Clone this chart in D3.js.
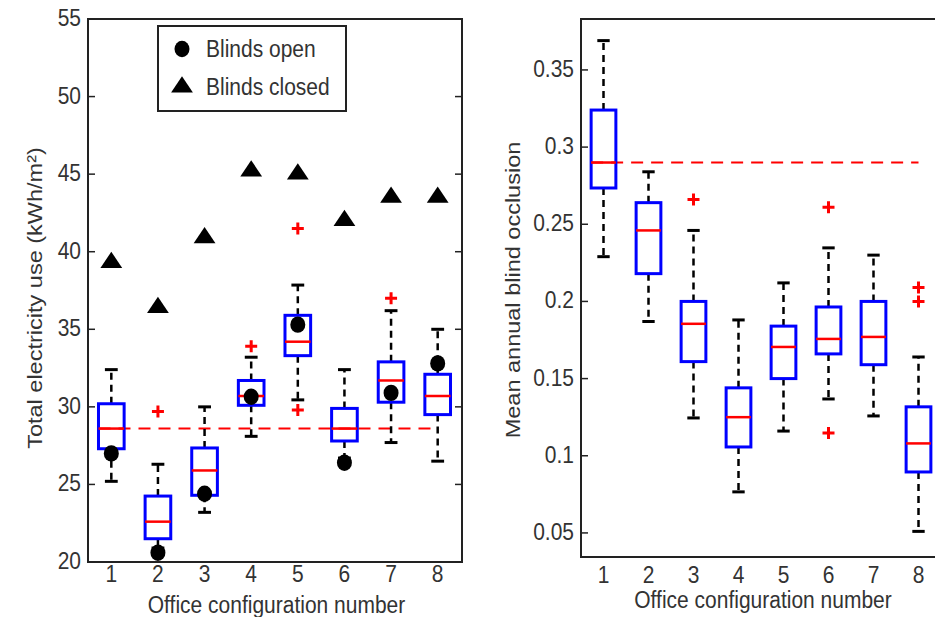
<!DOCTYPE html>
<html>
<head>
<meta charset="utf-8">
<script src="https://cdn.jsdelivr.net/npm/d3@7/dist/d3.min.js"></script>
<style>
  body { margin: 0; background: #ffffff; }
  svg { display: block; }
  text { font-family: "Liberation Sans", Arial, sans-serif; fill: #333; }
</style>
</head>
<body>
<script>
// ---- data ----
const configs = [1, 2, 3, 4, 5, 6, 7, 8];

// left: total electricity use (kWh/m2)
const elecWhiskerLow = [25.2, 20.9, 23.2, 28.1, 30.45, 26.7, 27.7, 26.5];
const elecQ1 = [27.3, 21.5, 24.3, 30.1, 33.3, 27.8, 30.3, 29.5];
const elecMedian = [28.6, 22.6, 25.9, 30.7, 34.2, 28.6, 31.7, 30.7];
const elecQ3 = [30.2, 24.25, 27.35, 31.7, 35.9, 29.9, 32.9, 32.1];
const elecWhiskerHigh = [32.4, 26.3, 30.0, 33.2, 37.85, 32.4, 36.2, 35.0];
const elecOutliers = [[], [29.7], [], [33.9], [41.5, 29.8], [], [37.0], []];
const blindsOpen = [27.0, 20.6, 24.4, 30.65, 35.3, 26.4, 30.9, 32.8];
const blindsClosed = [39.3, 36.4, 40.9, 45.2, 45.0, 42.0, 43.5, 43.5];
const elecReference = 28.6;
const elecTicks = [20, 25, 30, 35, 40, 45, 50, 55];

// right: mean annual blind occlusion
const occWhiskerLow = [0.229, 0.187, 0.1245, 0.0766, 0.116, 0.1368, 0.1258, 0.051];
const occQ1 = [0.2735, 0.218, 0.161, 0.1057, 0.150, 0.166, 0.159, 0.0895];
const occMedian = [0.290, 0.246, 0.1855, 0.125, 0.1705, 0.1757, 0.177, 0.108];
const occQ3 = [0.324, 0.264, 0.200, 0.144, 0.184, 0.1964, 0.200, 0.1317];
const occWhiskerHigh = [0.369, 0.284, 0.246, 0.188, 0.212, 0.2347, 0.230, 0.164];
const occOutliers = [[], [], [0.266], [], [], [0.261, 0.1148], [], [0.209, 0.200]];
const occReference = 0.290;
const occTicks = [0.05, 0.1, 0.15, 0.2, 0.25, 0.3, 0.35];

const legendLabels = ['Blinds open', 'Blinds closed'];

// ---- layout ----
const W = 935, H = 617;
const textStretch = 1.12; // the source figure is a bit taller than wide
const fontSize = 21;

const svg = d3.select('body').append('svg')
  .attr('width', W).attr('height', H)
  .attr('xmlns', 'http://www.w3.org/2000/svg');

function addText(g, x, y, str, anchor, rotate) {
  const t = g.append('text')
    .attr('transform', `translate(${x},${y}) scale(1,${textStretch})` + (rotate ? ` rotate(${rotate})` : ''))
    .attr('text-anchor', anchor)
    .style('font-size', fontSize + 'px')
    .text(str);
  return t;
}

function drawPanel(opt) {
  const g = svg.append('g');
  const x = d3.scaleLinear().domain([0.5, 8.5]).range([opt.left, opt.right]);
  const y = d3.scaleLinear().domain(opt.yDomain).range([opt.bottom, opt.top]);
  const bw = x(1.55) - x(1); // box width ~0.55 units

  // frame
  g.append('rect')
    .attr('x', opt.left).attr('y', opt.top)
    .attr('width', opt.frameRight - opt.left).attr('height', opt.bottom - opt.top)
    .style('fill', 'none').style('stroke', '#222').style('stroke-width', 2);

  // y ticks (inward) + labels
  const yTicks = g.append('g');
  for (const t of opt.ticks) {
    yTicks.append('line')
      .attr('x1', opt.left).attr('x2', opt.left + 7)
      .attr('y1', y(t)).attr('y2', y(t))
      .style('stroke', '#222').style('stroke-width', 1.5);
    if (opt.rightTicks) {
      yTicks.append('line')
        .attr('x1', opt.frameRight).attr('x2', opt.frameRight - 7)
        .attr('y1', y(t)).attr('y2', y(t))
        .style('stroke', '#222').style('stroke-width', 1.5);
    }
    addText(g, opt.left - 7, y(t) + 7, opt.tickFormat(t), 'end');
  }

  // x tick labels
  for (const c of configs) {
    addText(g, x(c), opt.bottom + opt.tickOffset, String(c), 'middle');
  }
  addText(g, (x(1) + x(8)) / 2 + 2, opt.bottom + opt.titleOffset, 'Office configuration number', 'middle');
  addText(g, opt.yLabelX, opt.yLabelY, opt.yLabel, 'middle', -90);

  // reference line
  g.append('line')
    .attr('x1', x(1) - bw / 2).attr('x2', x(8))
    .attr('y1', y(opt.reference)).attr('y2', y(opt.reference))
    .style('stroke', '#ff0000').style('stroke-width', 2)
    .style('stroke-dasharray', '12,8');

  // boxplots
  const boxes = g.selectAll('.box').data(configs).enter().append('g');

  // whiskers
  boxes.append('line')
    .attr('x1', d => x(d)).attr('x2', d => x(d))
    .attr('y1', (d, i) => y(opt.q3[i])).attr('y2', (d, i) => y(opt.hi[i]))
    .style('stroke', '#000').style('stroke-width', 2.5).style('stroke-dasharray', '7,5');
  boxes.append('line')
    .attr('x1', d => x(d)).attr('x2', d => x(d))
    .attr('y1', (d, i) => y(opt.q1[i])).attr('y2', (d, i) => y(opt.lo[i]))
    .style('stroke', '#000').style('stroke-width', 2.5).style('stroke-dasharray', '7,5');
  // caps
  for (const arr of [opt.hi, opt.lo]) {
    boxes.append('line')
      .attr('x1', d => x(d) - bw / 4).attr('x2', d => x(d) + bw / 4)
      .attr('y1', (d, i) => y(arr[i])).attr('y2', (d, i) => y(arr[i]))
      .style('stroke', '#000').style('stroke-width', 3);
  }
  // box
  boxes.append('rect')
    .attr('x', d => x(d) - bw / 2).attr('width', bw)
    .attr('y', (d, i) => y(opt.q3[i]))
    .attr('height', (d, i) => y(opt.q1[i]) - y(opt.q3[i]))
    .style('fill', 'none').style('stroke', '#0000ff').style('stroke-width', 3);
  // median
  boxes.append('line')
    .attr('x1', d => x(d) - bw / 2).attr('x2', d => x(d) + bw / 2)
    .attr('y1', (d, i) => y(opt.med[i])).attr('y2', (d, i) => y(opt.med[i]))
    .style('stroke', '#ff0000').style('stroke-width', 2.5);
  // outliers
  const outs = [];
  opt.outliers.forEach((list, i) => list.forEach(v => outs.push({ c: configs[i], v: v })));
  const plus = g.selectAll('.out').data(outs).enter().append('g')
    .attr('transform', d => `translate(${x(d.c)},${y(d.v)})`);
  plus.append('path').attr('d', 'M-6,0H6M0,-6V6')
    .style('stroke', '#ff0000').style('stroke-width', 3).style('fill', 'none');

  return { g, x, y };
}

const left = drawPanel({
  left: 88, right: 461, frameRight: 462, top: 19, bottom: 562,
  yDomain: [20, 55], ticks: elecTicks, tickFormat: d3.format('d'), rightTicks: true,
  q1: elecQ1, q3: elecQ3, med: elecMedian, lo: elecWhiskerLow, hi: elecWhiskerHigh,
  outliers: elecOutliers, reference: elecReference,
  tickOffset: 20, titleOffset: 51,
  yLabel: 'Total electricity use (kWh/m²)', yLabelX: 42, yLabelY: 298
});

const right = drawPanel({
  left: 581, right: 941, frameRight: 960, top: 19, bottom: 557,
  yDomain: [0.0344, 0.383], ticks: occTicks, tickFormat: d => String(+d.toFixed(2)), rightTicks: false,
  q1: occQ1, q3: occQ3, med: occMedian, lo: occWhiskerLow, hi: occWhiskerHigh,
  outliers: occOutliers, reference: occReference,
  tickOffset: 26, titleOffset: 51,
  yLabel: 'Mean annual blind occlusion', yLabelX: 520, yLabelY: 290
});

// blinds open / closed markers on the left panel
const symTri = d3.symbol().type(d3.symbolTriangle).size(170);
const markers = left.g.append('g');
markers.selectAll('.open').data(configs).enter().append('ellipse')
  .attr('cx', d => left.x(d)).attr('cy', (d, i) => left.y(blindsOpen[i]))
  .attr('rx', 7.5).attr('ry', 8.2).style('fill', '#000');
markers.selectAll('.closed').data(configs).enter().append('path')
  .attr('d', symTri)
  .attr('transform', (d, i) => `translate(${left.x(d)},${left.y(blindsClosed[i])}) scale(1.1,0.95)`)
  .style('fill', '#000');

// legend
const lg = left.g.append('g');
lg.append('rect').attr('x', 158).attr('y', 26).attr('width', 188).attr('height', 85)
  .style('fill', '#fff').style('stroke', '#222').style('stroke-width', 2);
lg.append('ellipse').attr('cx', 182).attr('cy', 49).attr('rx', 7.5).attr('ry', 8.2).style('fill', '#000');
lg.append('path').attr('d', symTri)
  .attr('transform', 'translate(182,87) scale(1.1,0.95)').style('fill', '#000');
addText(lg, 206, 57, legendLabels[0], 'start');
addText(lg, 206, 95, legendLabels[1], 'start');
</script>
</body>
</html>
